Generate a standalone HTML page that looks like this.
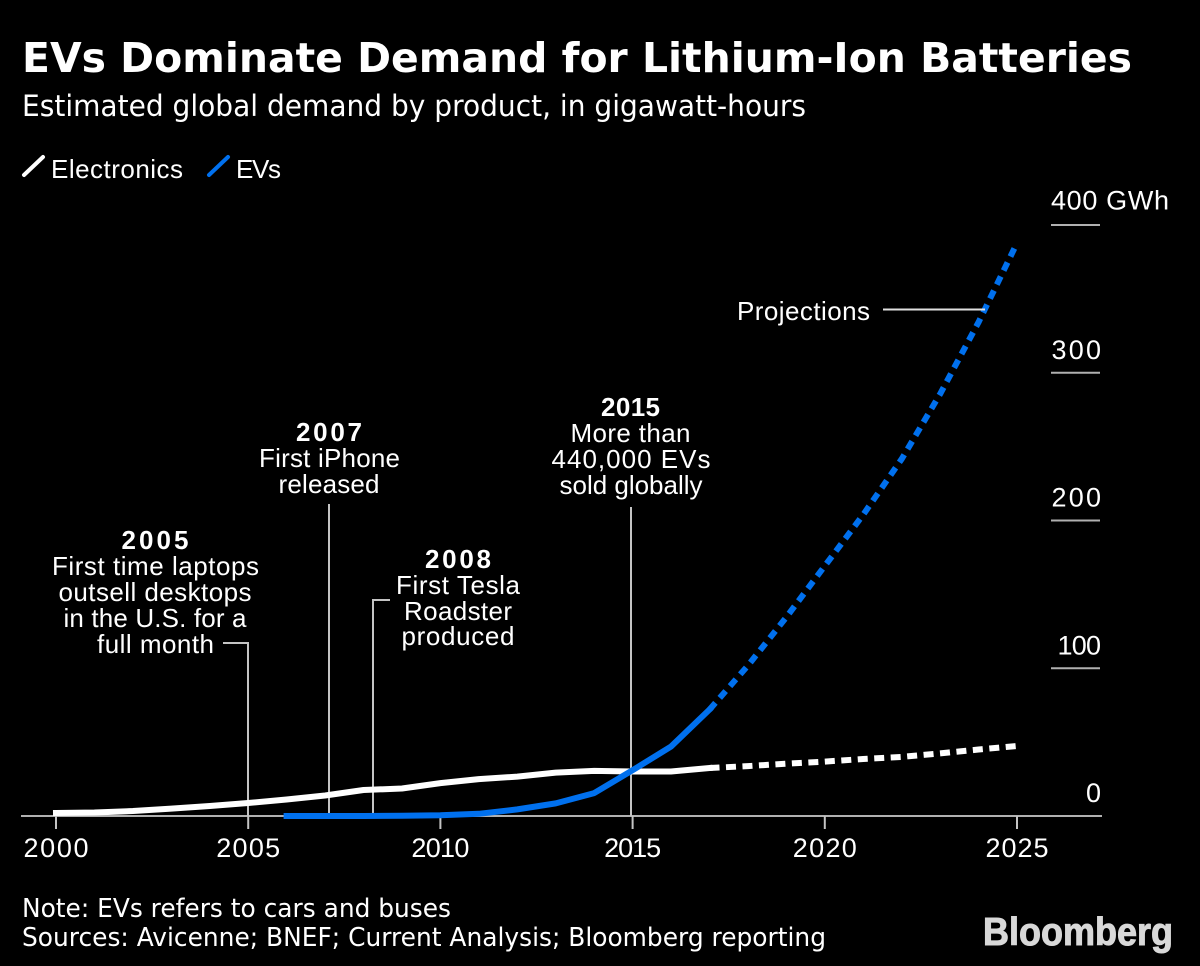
<!DOCTYPE html>
<html>
<head>
<meta charset="utf-8">
<title>EVs Dominate Demand for Lithium-Ion Batteries</title>
<style>
html,body{margin:0;padding:0;background:#000;}
svg{display:block;}
text{fill:#fff;font-family:"Liberation Sans",sans-serif;font-size:26px;}
.hd{font-family:"DejaVu Sans",sans-serif;}
.ann{text-anchor:middle;}
.yr{font-weight:700;}
</style>
</head>
<body>
<svg id="chart" width="1200" height="966" viewBox="0 0 1200 966" xmlns="http://www.w3.org/2000/svg">
  <rect x="0" y="0" width="1200" height="966" fill="#000"/>
  <text class="hd" x="22" y="72" style="font-size:41px;font-weight:700" textLength="1110" lengthAdjust="spacingAndGlyphs">EVs Dominate Demand for Lithium-Ion Batteries</text>
  <text class="hd" x="22" y="116" style="font-size:29px" textLength="784" lengthAdjust="spacingAndGlyphs">Estimated global demand by product, in gigawatt-hours</text>

  <g>
    <line x1="24" y1="175" x2="43" y2="157" stroke="#fff" stroke-width="4" stroke-linecap="round"/>
    <text x="51" y="178" textLength="132">Electronics</text>
    <line x1="209" y1="175" x2="228" y2="157" stroke="#0070ee" stroke-width="4" stroke-linecap="round"/>
    <text x="236" y="178" textLength="45">EVs</text>
  </g>

  <g id="axes"></g>

  <g>
    <text class="ann yr" x="155" y="549" textLength="67">2005</text>
    <text class="ann" x="155.500" y="575" textLength="207">First time laptops</text>
    <text class="ann" x="155" y="601" textLength="193">outsell desktops</text>
    <text class="ann" x="155" y="627" textLength="183">in the U.S. for a</text>
    <text class="ann" x="155.500" y="653" textLength="117">full month</text>
    <path d="M223 643H248V816" fill="none" stroke="#c4c4c4" stroke-width="2"/>
  </g>
  <g>
    <text class="ann yr" x="329" y="441" textLength="66">2007</text>
    <text class="ann" x="329.500" y="467" textLength="141">First iPhone</text>
    <text class="ann" x="329" y="493" textLength="101">released</text>
    <path d="M329 504V816" fill="none" stroke="#c4c4c4" stroke-width="2"/>
  </g>
  <g>
    <text class="ann yr" x="458" y="568" textLength="66">2008</text>
    <text class="ann" x="458" y="594" textLength="124">First Tesla</text>
    <text class="ann" x="458" y="620" textLength="108">Roadster</text>
    <text class="ann" x="458" y="645" textLength="113">produced</text>
    <path d="M390 600H373V816" fill="none" stroke="#c4c4c4" stroke-width="2"/>
  </g>
  <g>
    <text class="ann yr" x="630.500" y="416" textLength="59">2015</text>
    <text class="ann" x="630.500" y="442" textLength="120">More than</text>
    <text class="ann" x="631" y="468" textLength="159">440,000 EVs</text>
    <text class="ann" x="631" y="494" textLength="143">sold globally</text>
    <path d="M631 507V816" fill="none" stroke="#c4c4c4" stroke-width="2"/>
  </g>
  <g id="series"></g>
  <g>
    <text x="737" y="320" textLength="133">Projections</text>
    <path d="M883 309.500H985" fill="none" stroke="#e0e0e0" stroke-width="2"/>
  </g>

  <text class="hd" x="22" y="917" style="font-size:26px" textLength="429" lengthAdjust="spacingAndGlyphs">Note: EVs refers to cars and buses</text>
  <text class="hd" x="22" y="946" style="font-size:26px" textLength="804" lengthAdjust="spacingAndGlyphs">Sources: Avicenne; BNEF; Current Analysis; Bloomberg reporting</text>
  <text x="983" y="945" style="font-size:39px;font-weight:700;fill:#d8d8d8" stroke="#d8d8d8" stroke-width="1" textLength="190" lengthAdjust="spacingAndGlyphs">Bloomberg</text>
</svg>
<script>
const xTickYears = [2000, 2005, 2010, 2015, 2020, 2025];
const yTickValues = [0, 100, 200, 300, 400];
const yTickLabels = ["0", "100", "200", "300", "400 GWh"];

const electronicsYears = [2000, 2001, 2002, 2003, 2004, 2005, 2006, 2007, 2008, 2009, 2010, 2011, 2012, 2013, 2014, 2015, 2016, 2017];
const electronicsValues = [2, 2.4, 3.4, 5, 6.8, 8.8, 11.2, 13.9, 17.6, 18.6, 22.3, 25, 26.7, 29.4, 30.5, 30.1, 30.1, 32.5];
const evYears = [2006, 2007, 2008, 2009, 2010, 2011, 2012, 2013, 2014, 2015, 2016, 2017];
const evValues = [0, 0, 0, 0.2, 0.5, 1.5, 4.5, 8.5, 15.5, 31, 47, 72];
const projectionYears = [2017, 2018, 2019, 2020, 2021, 2022, 2023, 2024, 2025];
const electronicsProjected = [32.5, 33.8, 35.4, 36.8, 38.6, 40, 42.4, 45, 47.4];
const evProjected = [72, 101.8, 134.6, 169.3, 203.9, 241.6, 285.6, 334.3, 387.8];

const NS = 'http://www.w3.org/2000/svg';
const xScale = function (year) { return 56 + (year - 2000) * 38.44; };
const yScale = function (value) { return 816 - value * 1.4775; };
const axes = document.getElementById('axes');
const series = document.getElementById('series');

function make(tag, parent, attrs, text) {
  const el = document.createElementNS(NS, tag);
  Object.keys(attrs).forEach(function (k) { el.setAttribute(k, attrs[k]); });
  if (text !== undefined) el.textContent = text;
  parent.appendChild(el);
  return el;
}

/* The reference face has proportional numerals, narrower than Liberation's tabular ones. */
function numeralWidth(str) {
  let w = 0;
  for (const c of str) {
    w += c === '1' ? 9.5 : c === '0' ? 16.5 : 15.5;
  }
  return w;
}

const baseline = make('line', axes, {x1: 21, x2: 1102, y1: yScale(0), y2: yScale(0), stroke: '#b0b0b0', 'stroke-width': 2});



xTickYears.forEach(function (year) {
  const tick = make('line', axes, {x1: xScale(year), x2: xScale(year), y1: yScale(0), y2: 829, stroke: '#c4c4c4', 'stroke-width': 2});
  
  
  const label = make('text', axes, {x: xScale(year), y: 857, 'text-anchor': 'middle', textLength: numeralWidth(String(year)), style: 'font-size:27px'}, String(year));
  
  
});

yTickValues.forEach(function (value, i) {
  if (value > 0) {
    const grid = make('line', axes, {x1: 1051, x2: 1100, y1: yScale(value), y2: yScale(value), stroke: '#b0b0b0', 'stroke-width': 2});
    
    
  }
  const isTop = i === yTickLabels.length - 1;
  const label = make('text', axes, {
    x: isTop ? 1051 : 1101,
    y: yScale(value) - (isTop ? 15.5 : 14),
    'text-anchor': isTop ? 'start' : 'end',
    textLength: isTop ? 118 : numeralWidth(yTickLabels[i]) + 1,
    style: 'font-size:27px'
  }, yTickLabels[i]);
  
  
});

function linePath(years, values) {
  return years.map(function (year, i) {
    return (i ? 'L' : 'M') + xScale(year).toFixed(1) + ' ' + yScale(values[i]).toFixed(1);
  }).join('');
}

const electronicsDashed = make('path', series, {d: linePath(projectionYears, electronicsProjected), fill: 'none', stroke: '#fff', 'stroke-width': 6, 'stroke-dasharray': '10 6.5'});



const electronicsSolid = make('path', series, {d: linePath(electronicsYears, electronicsValues), fill: 'none', stroke: '#fff', 'stroke-width': 6, 'stroke-linejoin': 'round', 'stroke-linecap': 'square'});



const evDashed = make('path', series, {d: linePath(projectionYears, evProjected), fill: 'none', stroke: '#0070ee', 'stroke-width': 6, 'stroke-dasharray': '9 6.6'});



const evSolid = make('path', series, {d: linePath(evYears, evValues), fill: 'none', stroke: '#0070ee', 'stroke-width': 6, 'stroke-linejoin': 'round', 'stroke-linecap': 'square'});


</script>
</body>
</html>
